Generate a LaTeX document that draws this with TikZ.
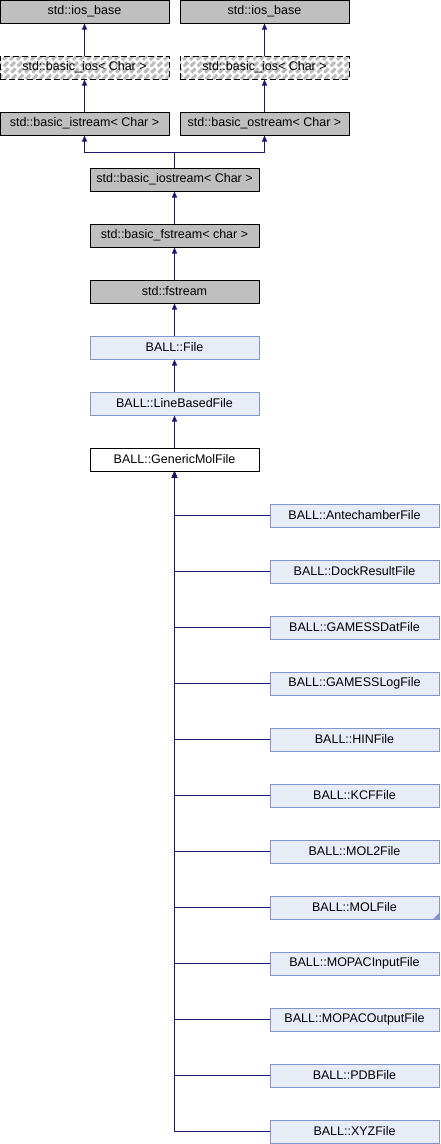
\documentclass[tikz,border=0pt]{standalone}
\usepackage{fontspec}
\setmainfont{Liberation Sans}
\usetikzlibrary{arrows.meta}
\definecolor{edgeblue}{HTML}{191970}
\definecolor{grayfill}{HTML}{BFBFBF}
\definecolor{ballfill}{HTML}{E8ECF6}
\definecolor{ballborder}{HTML}{7F96C8}
\definecolor{hatch}{HTML}{BBBBBB}
\tikzset{
  box/.style={rectangle, minimum width=169pt, minimum height=23pt, inner sep=0pt,
    line width=1pt, font=\fontsize{12.5}{14}\selectfont, anchor=center},
  graybox/.style={box, draw=black, fill=grayfill},
  ballbox/.style={box, draw=ballborder, fill=ballfill},
  whitebox/.style={box, draw=black, fill=white},
  hatchbox/.style={box, draw=black, dash pattern=on 6pt off 3pt, fill=white,
    path picture={\foreach \k in {0,...,32}{\draw[hatch, line width=3pt]
      ([xshift=\k*7pt-30pt]path picture bounding box.south west) -- ++(30pt,30pt);}}},
  edge/.style={draw=edgeblue, line width=1pt, -{Triangle[width=5pt,length=6pt]}},
  plain/.style={draw=edgeblue, line width=1pt},
}
\begin{document}
\begin{tikzpicture}[x=1pt,y=-1pt]
\useasboundingbox (0,0) rectangle (440,1144);
\node[graybox] (ib1) at (84.5,11.5) {std::ios\_base};
\node[graybox] (ib2) at (264.5,11.5) {std::ios\_base};
\node[hatchbox] (bi1) at (84.5,67.5) {std::basic\_ios< Char >};
\node[hatchbox] (bi2) at (264.5,67.5) {std::basic\_ios< Char >};
\node[graybox] (is) at (84.5,123.5) {std::basic\_istream< Char >};
\node[graybox] (os) at (264.5,123.5) {std::basic\_ostream< Char >};
\node[graybox] (io) at (174.5,179.5) {std::basic\_iostream< Char >};
\node[graybox] (bf) at (174.5,235.5) {std::basic\_fstream< char >};
\node[graybox] (fs) at (174.5,291.5) {std::fstream};
\node[ballbox] (file) at (174.5,347.5) {BALL::File};
\node[ballbox] (lbf) at (174.5,403.5) {BALL::LineBasedFile};
\node[whitebox] (gmf) at (174.5,459.5) {BALL::GenericMolFile};
\coordinate (j) at (174.5,152);
\draw[edge] (bi1.north) -- (ib1.south);
\draw[edge] (bi2.north) -- (ib2.south);
\draw[edge] (is.north) -- (bi1.south);
\draw[edge] (os.north) -- (bi2.south);
\draw[plain] (io.north) -- (j);
\draw[edge] (j) -| (is.south);
\draw[edge] (j) -| (os.south);
\draw[edge] (bf.north) -- (io.south);
\draw[edge] (fs.north) -- (bf.south);
\draw[edge] (file.north) -- (fs.south);
\draw[edge] (lbf.north) -- (file.south);
\draw[edge] (gmf.north) -- (lbf.south);
\foreach \nm/\txt [count=\i from 0] in {c0/AntechamberFile,c1/DockResultFile,c2/GAMESSDatFile,c3/GAMESSLogFile,c4/HINFile,c5/KCFFile,c6/MOL2File,c7/MOLFile,c8/MOPACInputFile,c9/MOPACOutputFile,c10/PDBFile,c11/XYZFile}{
  \node[ballbox] (\nm) at (354.5,515.5+56*\i) {BALL::\txt};
  \draw[edge] (\nm.west) -| (gmf.south);
}
\fill[ballborder] (c7.south east) -- ++(0,-7) -- ++(-7,7) -- cycle;
\end{tikzpicture}
\end{document}
